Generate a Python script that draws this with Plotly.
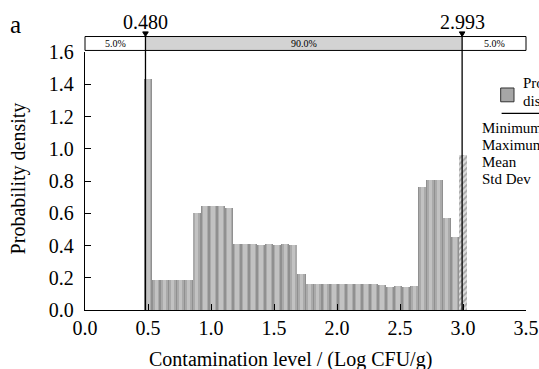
import plotly.graph_objects as go

# ---- data ----
bin_centers = [0.502, 0.566, 0.630, 0.694, 0.758, 0.822, 0.886, 0.950, 1.014, 1.078,
               1.142, 1.206, 1.270, 1.334, 1.398, 1.462, 1.526, 1.590, 1.654, 1.718,
               1.782, 1.846, 1.910, 1.974, 2.038, 2.102, 2.166, 2.230, 2.294, 2.358,
               2.422, 2.486, 2.550, 2.614, 2.678, 2.742, 2.806, 2.870, 2.934, 2.998]
density = [1.43, 0.185, 0.185, 0.185, 0.185, 0.185, 0.60, 0.645, 0.645, 0.645,
           0.63, 0.412, 0.412, 0.412, 0.406, 0.412, 0.406, 0.412, 0.406, 0.222,
           0.164, 0.164, 0.164, 0.164, 0.164, 0.164, 0.164, 0.164, 0.164, 0.158,
           0.143, 0.150, 0.142, 0.150, 0.76, 0.805, 0.805, 0.57, 0.45, 0.96]
bin_width = 0.064
lower_pct = 0.480
upper_pct = 2.993
band_labels = ["5.0%", "90.0%", "5.0%"]
x_ticks = [0.0, 0.5, 1.0, 1.5, 2.0, 2.5, 3.0, 3.5]
y_ticks = [0.0, 0.2, 0.4, 0.6, 0.8, 1.0, 1.2, 1.4, 1.6]
stats_labels = ["Minimum", "Maximum", "Mean", "Std Dev"]

SERIF = "Liberation Serif, Times New Roman, serif"

fig = go.Figure()

main_x = bin_centers[:-1]
main_y = density[:-1]
# layered bars to imitate the cylinder-like gradient shading
for w, col in [(1.0, "#909090"), (0.78, "#aaaaaa"), (0.45, "#c2c2c2")]:
    fig.add_trace(go.Bar(x=main_x, y=main_y, width=bin_width * w,
                         marker=dict(color=col, line=dict(width=0)),
                         hoverinfo="skip", showlegend=False))
# last (upper tail) bar hatched
fig.add_trace(go.Bar(x=bin_centers[-1:], y=density[-1:], width=bin_width * 0.95,
                     marker=dict(color="#d8d8d8", line=dict(width=0),
                                 pattern=dict(shape="/", fgcolor="#707070",
                                              bgcolor="#dcdcdc", size=4, solidity=0.45)),
                     hoverinfo="skip", showlegend=False))

band_y0, band_y1 = 1.006, 1.060
tri_top = 1.078
tri_half = 0.022
shapes = [
    dict(type="rect", xref="paper", yref="paper", x0=0, x1=1, y0=band_y0, y1=band_y1,
         fillcolor="white", line=dict(width=0), layer="above"),
    dict(type="rect", xref="x", yref="paper", x0=lower_pct, x1=upper_pct, y0=band_y0, y1=band_y1,
         fillcolor="#d3d3d3", line=dict(width=0), layer="above"),
    dict(type="rect", xref="paper", yref="paper", x0=0, x1=1, y0=band_y0, y1=band_y1,
         fillcolor="rgba(0,0,0,0)", line=dict(color="black", width=1), layer="above"),
    # legend swatch & rule
    dict(type="rect", xref="paper", yref="paper", x0=0.9426, x1=0.9728, y0=0.807, y1=0.8605,
         fillcolor="#a6a6a6", line=dict(color="#333333", width=1)),
    dict(type="line", xref="paper", yref="paper", x0=0.9447, x1=1.2, y0=0.7624, y1=0.7624,
         line=dict(color="black", width=1.3)),
]
for v in [lower_pct, upper_pct]:
    shapes.append(dict(type="line", xref="x", yref="paper", x0=v, x1=v, y0=0, y1=band_y1,
                       line=dict(color="black", width=1.3), layer="above"))
    shapes.append(dict(type="path", xref="x", yref="paper",
                       path=f"M {v - tri_half},{tri_top} L {v + tri_half},{tri_top} L {v},{band_y1} Z",
                       fillcolor="black", line=dict(color="black", width=1), layer="above"))


def note(x, y, text, size, xref="paper", yref="paper", xanchor="center", **kw):
    return dict(x=x, y=y, xref=xref, yref=yref, text=text, showarrow=False,
                xanchor=xanchor, yanchor="middle",
                font=dict(family=SERIF, size=size, color="black"), **kw)


ann = []
band_mid = (band_y0 + band_y1) / 2
ann.append(note(lower_pct / 2, band_mid, band_labels[0], 10, xref="x"))
ann.append(note((lower_pct + upper_pct) / 2, band_mid, band_labels[1], 10, xref="x"))
ann.append(note((upper_pct + 3.5) / 2, band_mid, band_labels[2], 10, xref="x"))
for v in [lower_pct, upper_pct]:
    ann.append(note(v, 1.118, f"{v:.3f}", 20, xref="x"))
ann.append(note(-0.158, 1.105, "a", 25))
ann.append(note(-0.152, 0.51, "Probability density", 20, textangle=-90))
ann.append(note(0.467, -0.19, "Contamination level / (Log CFU/g)", 20))
ann.append(note(0.988, 0.88, "Probability", 15, xanchor="left"))
ann.append(note(0.988, 0.81, "distribution", 15, xanchor="left"))
for lbl, yy in zip(stats_labels, [0.705, 0.640, 0.574, 0.508]):
    ann.append(note(0.8957, yy, lbl, 15, xanchor="left"))

fig.update_layout(
    width=539, height=369,
    margin=dict(l=85, r=13, t=52, b=59),
    paper_bgcolor="white", plot_bgcolor="white",
    barmode="overlay", bargap=0,
    shapes=shapes, annotations=ann,
    font=dict(family=SERIF, color="black"),
    xaxis=dict(range=[0, 3.5], tickmode="array", tickvals=x_ticks,
               ticktext=[f"{t:.1f}" for t in x_ticks], automargin=False,
               ticks="inside", ticklen=6, tickcolor="black", tickwidth=1.3,
               showline=True, linecolor="black", linewidth=1.3, showgrid=False,
               zeroline=False, tickfont=dict(family=SERIF, size=20, color="black")),
    yaxis=dict(range=[0, 1.6], tickmode="array", tickvals=y_ticks,
               ticktext=[f"{t:.1f}" for t in y_ticks], automargin=False,
               ticks="inside", ticklen=6, tickcolor="black", tickwidth=1.3,
               showline=True, linecolor="black", linewidth=1.3, showgrid=False,
               zeroline=False, ticklabelstandoff=6,
               tickfont=dict(family=SERIF, size=20, color="black")),
)

fig.write_html("out.html")
